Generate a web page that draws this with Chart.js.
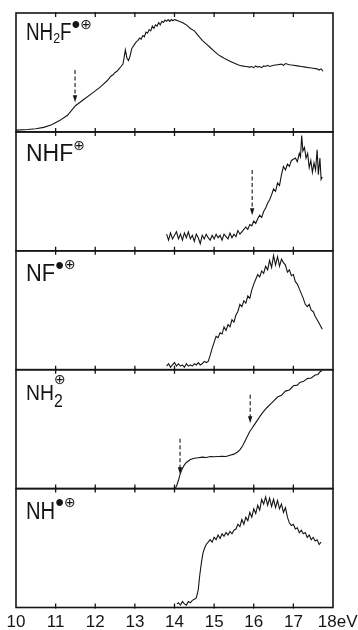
<!DOCTYPE html>
<html>
<head>
<meta charset="utf-8">
<script src="https://cdn.jsdelivr.net/npm/chart.js@4.4.1/dist/chart.umd.min.js"></script>
<style>
  html, body { margin: 0; padding: 0; background: #fff; }
  #wrap { width: 358px; height: 630px; }
</style>
</head>
<body>
<div id="wrap"><canvas id="spectra" width="358" height="630"></canvas></div>
<script>
// Axe des énergies (eV)
const xTicks = [10, 11, 12, 13, 14, 15, 16, 17, 18];
const tickLabels = ['10', '11', '12', '13', '14', '15', '16', '17', '  18eV'];

// NH2F•+
const nh2fE = [10.0,10.3,10.5,10.7,10.9,11.1,11.3,11.5,11.7,11.9,12.1,12.2,12.3,12.35,12.4,12.45,12.5,12.55,12.6,12.65,12.7,12.73,12.76,12.8,12.84,12.88,12.92,12.96,13.0,13.04,13.08,13.12,13.16,13.2,13.24,13.28,13.32,13.36,13.4,13.44,13.48,13.52,13.56,13.6,13.64,13.68,13.72,13.76,13.8,13.84,13.88,13.92,13.96,14.0,14.04,14.08,14.12,14.16,14.2,14.25,14.3,14.4,14.5,14.6,14.7,14.8,14.9,15.0,15.1,15.2,15.3,15.4,15.5,15.6,15.7,15.8,15.9,15.95,16.0,16.05,16.1,16.15,16.2,16.25,16.3,16.35,16.4,16.5,16.6,16.7,16.75,16.8,16.9,17.0,17.1,17.2,17.3,17.4,17.5,17.6,17.65,17.7,17.75];
const nh2fY = [.015,.02,.026,.038,.06,.095,.14,.22,.27,.32,.37,.4,.43,.45,.47,.48,.5,.51,.53,.55,.57,.63,.69,.62,.6,.64,.7,.72,.74,.76,.77,.79,.78,.81,.8,.84,.83,.86,.85,.89,.87,.9,.89,.92,.9,.93,.92,.94,.93,.945,.93,.945,.935,.945,.94,.935,.93,.925,.92,.91,.9,.87,.85,.81,.77,.74,.71,.68,.65,.63,.61,.595,.58,.565,.555,.55,.545,.55,.54,.555,.545,.55,.54,.555,.55,.56,.55,.56,.565,.57,.56,.575,.565,.56,.555,.55,.545,.54,.535,.53,.52,.53,.51];

// NHF+
const nhfE = [13.8,13.85,13.9,13.95,14.0,14.05,14.1,14.15,14.2,14.25,14.3,14.35,14.4,14.45,14.5,14.55,14.6,14.65,14.7,14.75,14.8,14.85,14.9,14.95,15.0,15.05,15.1,15.15,15.2,15.25,15.3,15.35,15.4,15.45,15.5,15.55,15.6,15.65,15.7,15.75,15.8,15.85,15.9,15.95,16.0,16.05,16.1,16.15,16.2,16.25,16.3,16.35,16.4,16.45,16.5,16.55,16.6,16.65,16.7,16.75,16.8,16.85,16.9,16.95,17.0,17.05,17.1,17.15,17.18,17.21,17.24,17.28,17.32,17.36,17.4,17.44,17.48,17.52,17.56,17.6,17.63,17.67,17.7,17.73];
const nhfY = [.14,.09,.15,.1,.13,.16,.1,.14,.09,.15,.11,.16,.1,.13,.08,.14,.11,.06,.13,.1,.14,.11,.09,.13,.1,.14,.11,.13,.09,.14,.12,.1,.15,.11,.14,.12,.17,.14,.16,.18,.2,.18,.22,.21,.25,.23,.27,.3,.28,.33,.36,.4,.43,.47,.52,.5,.57,.55,.64,.71,.68,.73,.71,.76,.77,.78,.75,.82,.79,.97,.84,.87,.78,.82,.7,.76,.66,.74,.68,.85,.64,.78,.6,.62];

// NF•+
const nfE = [13.8,13.85,13.9,13.95,14.0,14.05,14.1,14.15,14.2,14.25,14.3,14.35,14.4,14.45,14.5,14.55,14.6,14.65,14.7,14.75,14.8,14.85,14.9,14.95,15.0,15.05,15.1,15.15,15.2,15.25,15.3,15.35,15.4,15.45,15.5,15.55,15.6,15.65,15.7,15.75,15.8,15.85,15.9,15.95,16.0,16.05,16.1,16.15,16.2,16.25,16.3,16.35,16.4,16.45,16.5,16.55,16.6,16.65,16.7,16.75,16.8,16.85,16.9,16.95,17.0,17.05,17.1,17.15,17.2,17.25,17.3,17.35,17.4,17.45,17.5,17.55,17.6,17.65,17.7,17.73];
const nfY = [.03,.05,.02,.04,.06,.03,.05,.03,.04,.02,.05,.03,.04,.03,.05,.04,.06,.04,.05,.07,.06,.07,.12,.18,.23,.28,.27,.31,.3,.36,.33,.38,.36,.42,.4,.46,.49,.55,.53,.58,.56,.62,.6,.67,.72,.76,.8,.78,.83,.81,.87,.84,.92,.86,.96,.88,.95,.87,.93,.9,.88,.82,.84,.79,.8,.74,.72,.68,.64,.6,.55,.53,.55,.5,.49,.45,.42,.39,.36,.34];

// NH2+
const nh2E = [14.02,14.06,14.1,14.14,14.2,14.25,14.3,14.4,14.5,14.6,14.7,14.8,14.9,15.0,15.1,15.2,15.3,15.4,15.5,15.6,15.66,15.72,15.78,15.84,15.9,15.96,16.0,16.08,16.16,16.24,16.33,16.42,16.5,16.6,16.7,16.8,16.9,17.0,17.1,17.17,17.25,17.35,17.45,17.55,17.62,17.68,17.72];
const nh2Y = [0,.03,.07,.12,.17,.2,.22,.245,.255,.26,.265,.262,.27,.268,.27,.272,.27,.28,.29,.31,.33,.36,.4,.44,.48,.51,.53,.57,.61,.645,.68,.71,.735,.77,.785,.82,.83,.865,.87,.895,.9,.925,.93,.955,.96,.985,.99];

// NH•+
const nhE = [14.06,14.1,14.15,14.2,14.25,14.3,14.35,14.4,14.45,14.5,14.55,14.6,14.63,14.66,14.69,14.72,14.76,14.8,14.85,14.9,14.95,15.0,15.05,15.1,15.15,15.2,15.25,15.3,15.35,15.4,15.45,15.5,15.55,15.6,15.65,15.7,15.75,15.8,15.85,15.9,15.95,16.0,16.05,16.1,16.15,16.2,16.25,16.3,16.35,16.4,16.45,16.5,16.55,16.6,16.65,16.7,16.75,16.8,16.85,16.9,16.95,17.0,17.05,17.1,17.15,17.2,17.25,17.3,17.35,17.4,17.45,17.5,17.55,17.6,17.65,17.7];
const nhY = [.03,.04,.02,.05,.03,.02,.05,.04,.06,.07,.08,.15,.25,.33,.4,.46,.5,.53,.55,.57,.55,.59,.57,.61,.58,.62,.6,.63,.61,.64,.62,.65,.66,.7,.68,.74,.7,.76,.73,.8,.76,.83,.79,.86,.82,.91,.87,.93,.86,.92,.85,.91,.84,.9,.83,.87,.8,.84,.76,.71,.69,.7,.66,.67,.63,.65,.62,.63,.59,.61,.57,.59,.56,.57,.53,.55];

// Etiquettes des panneaux (texte principal, indices, exposants)
const panelLabels = [
    [['NH', 'main'], ['2', 'sub'], ['F', 'main'], ['•', 'dot'], ['⊕', 'plus']],
    [['NHF', 'main'], ['⊕', 'plus']],
    [['NF', 'main'], ['•', 'dot'], ['⊕', 'plus']],
    [['NH', 'main'], ['2', 'sub2'], ['⊕', 'over']],
    [['NH', 'main'], ['•', 'dot'], ['⊕', 'plus']]
];

// Flèches en pointillés : énergie, haut, pointe
const arrowE   = [[11.49], [15.96], [], [14.14, 15.91], []];
const arrowTop = [[0.52], [0.68], [], [0.42, 0.79], []];
const arrowTip = [[0.25], [0.30], [], [0.12, 0.55], []];

const seriesE = [nh2fE, nhfE, nfE, nh2E, nhE];
const seriesY = [nh2fY, nhfY, nfY, nh2Y, nhY];
const panelIds = ['p0', 'p1', 'p2', 'p3', 'p4'];

const INK = '#151515';
const FAM = '"Liberation Sans", sans-serif';
const labelFonts = {
    main: { size: null, dy: 0, base: 'alphabetic', squeeze: true },
    sub:  { size: 15, dy: 3, base: 'alphabetic', squeeze: true },
    sub2: { size: 18, dy: 7, base: 'alphabetic', squeeze: true },
    dot:  { size: 25, dy: -14, base: 'middle' },
    plus: { size: 14, dy: -15, base: 'middle', fam: '"DejaVu Sans", sans-serif' },
    over: { size: 14, dy: -19, base: 'middle', fam: '"DejaVu Sans", sans-serif' }
};
// taille, largeur relative et ligne de base de chaque libellé
const labelSize = [23, 23, 23, 22, 23];
const labelStretch = [0.82, 1, 0.95, 0.88, 0.88];
const labelDrop = [27, 29, 30, 30, 30];

// Cadres, graduations, étiquettes et flèches dessinés par-dessus
const framePlugin = {
    id: 'frames',
    afterDatasetsDraw(chart) {
        const { ctx, chartArea, scales } = chart;
        const xs = scales.x;
        ctx.save();
        ctx.strokeStyle = INK;
        ctx.fillStyle = INK;
        panelIds.forEach((id, i) => {
            const ys = scales[id];
            const top = ys.top, bottom = ys.bottom;
            ctx.setLineDash([]);
            ctx.lineWidth = 1.6;
            ctx.strokeRect(chartArea.left, top, chartArea.right - chartArea.left, bottom - top);

            // graduations vers l'intérieur
            ctx.lineWidth = 1.3;
            xTicks.forEach(v => {
                if (v <= xTicks[0] || v >= xTicks[xTicks.length - 1]) return;
                const px = xs.getPixelForValue(v);
                ctx.beginPath();
                ctx.moveTo(px, top - 1); ctx.lineTo(px, top + 4);
                ctx.moveTo(px, bottom + 1); ctx.lineTo(px, bottom - 4);
                ctx.stroke();
            });

            // étiquette
            let x = chartArea.left + 10;
            const baseline = top + labelDrop[i];
            let prevX = x;
            panelLabels[i].forEach(([txt, kind]) => {
                const f = labelFonts[kind];
                const sx = f.squeeze ? labelStretch[i] : 1;
                ctx.font = `${f.size || labelSize[i]}px ${f.fam || FAM}`;
                ctx.textBaseline = f.base;
                ctx.textAlign = 'left';
                const startX = kind === 'over' ? prevX : x;
                ctx.save();
                ctx.translate(startX, baseline + f.dy);
                ctx.scale(sx, 1);
                ctx.fillText(txt, 0, 0);
                ctx.restore();
                prevX = startX;
                if (kind !== 'over') x = startX + ctx.measureText(txt).width * sx;
            });

            // flèches
            arrowE[i].forEach((e, k) => {
                const px = xs.getPixelForValue(e);
                const y0 = ys.getPixelForValue(arrowTop[i][k]);
                const y1 = ys.getPixelForValue(arrowTip[i][k]);
                ctx.lineWidth = 1.1;
                ctx.setLineDash([4, 2.5]);
                ctx.beginPath();
                ctx.moveTo(px, y0); ctx.lineTo(px, y1 - 5);
                ctx.stroke();
                ctx.setLineDash([]);
                ctx.beginPath();
                ctx.moveTo(px - 2.2, y1 - 7);
                ctx.lineTo(px + 2.2, y1 - 7);
                ctx.lineTo(px, y1);
                ctx.closePath();
                ctx.fill();
            });
        });
        ctx.restore();
    }
};

const yScales = {};
panelIds.forEach((id, i) => {
    yScales[id] = {
        type: 'linear',
        position: 'left',
        stack: 'panels',
        stackWeight: 1,
        weight: 5 - i,
        min: 0,
        max: 1,
        grid: { display: false, drawTicks: false },
        border: { display: false },
        ticks: { display: false }
    };
});

const datasets = panelIds.map((id, i) => ({
    label: id,
    data: seriesE[i].map((e, k) => ({ x: e, y: seriesY[i][k] })),
    yAxisID: id,
    xAxisID: 'x',
    borderColor: INK,
    borderWidth: 1.1,
    pointRadius: 0,
    tension: 0,
    fill: false
}));

new Chart(document.getElementById('spectra').getContext('2d'), {
    type: 'line',
    data: { datasets },
    options: {
        responsive: false,
        animation: false,
        devicePixelRatio: 1,
        layout: { padding: { left: 16, right: 25, top: 13, bottom: -7 } },
        scales: {
            x: {
                type: 'linear',
                min: 10,
                max: 18,
                afterBuildTicks: axis => { axis.ticks = xTicks.map(v => ({ value: v })); },
                // les libellés débordent dans la marge : pas de rembourrage latéral
                afterFit: axis => { axis.paddingLeft = 0; axis.paddingRight = 0; },
                grid: { display: false, drawTicks: false },
                border: { display: false },
                ticks: {
                    color: INK,
                    padding: 2,
                    maxRotation: 0,
                    autoSkip: false,
                    font: { family: FAM, size: 17, lineHeight: 1.5 },
                    callback: (v) => tickLabels[xTicks.indexOf(v)]
                }
            },
            ...yScales
        },
        plugins: {
            legend: { display: false },
            tooltip: { enabled: false }
        }
    },
    plugins: [framePlugin]
});
</script>
</body>
</html>
